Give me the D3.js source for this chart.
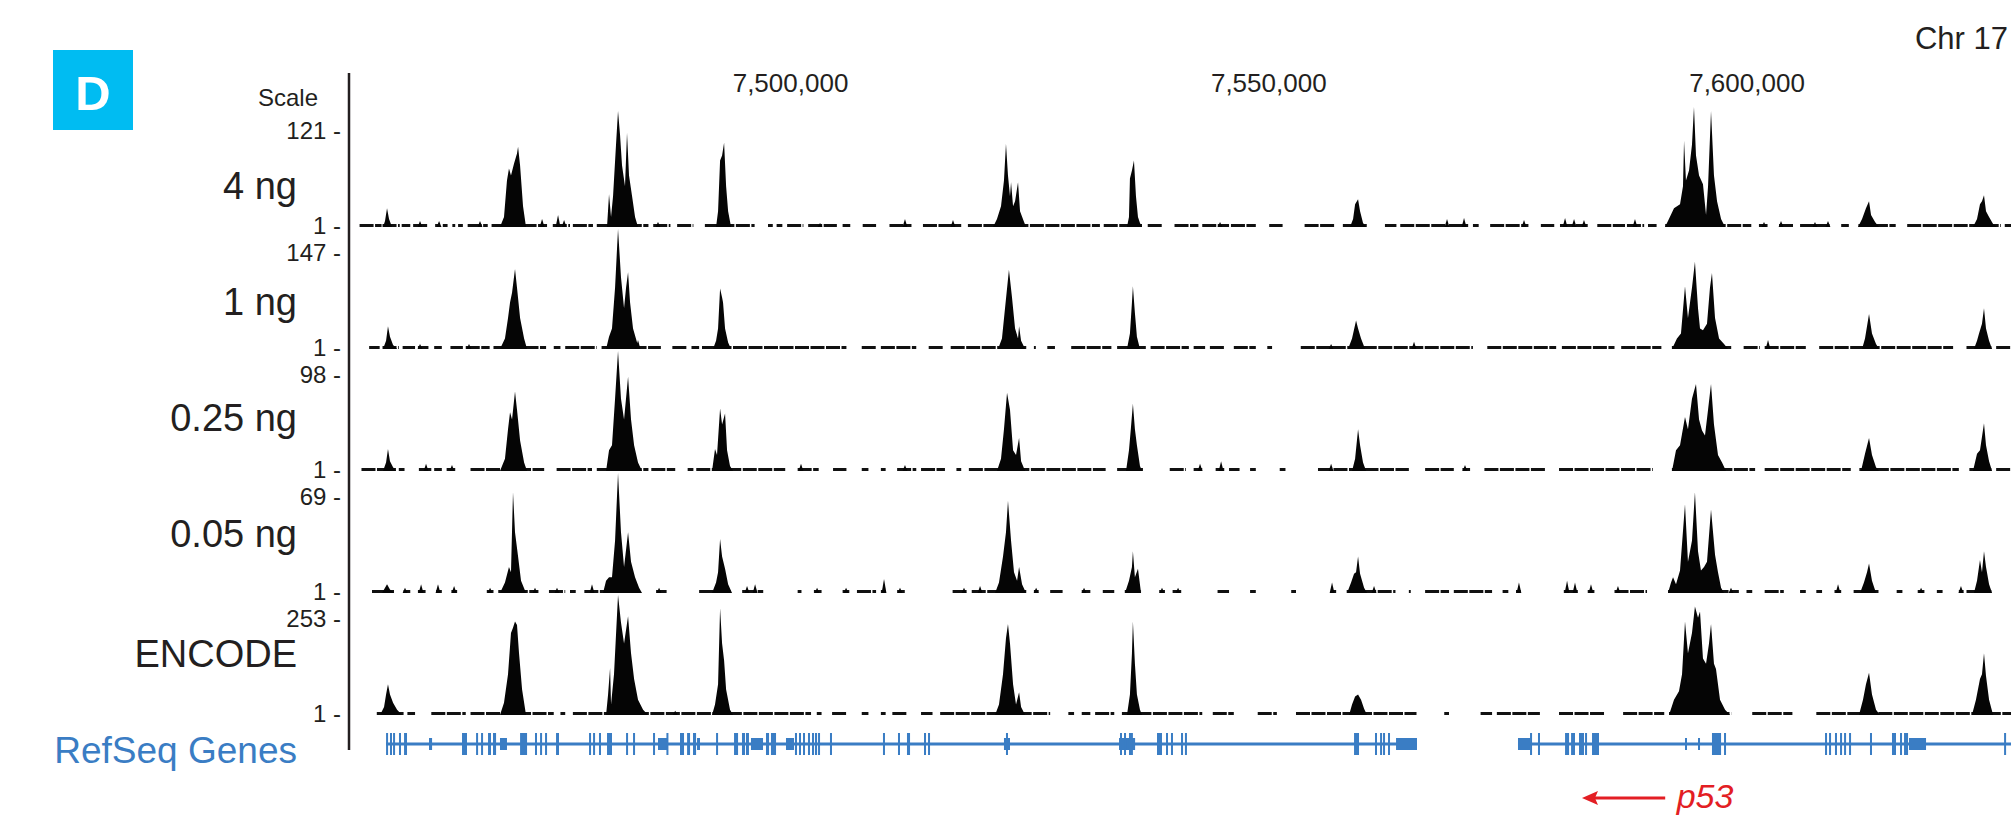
<!DOCTYPE html>
<html>
<head>
<meta charset="utf-8">
<script src="https://cdnjs.cloudflare.com/ajax/libs/d3/7.8.5/d3.min.js"></script>
<style>
  body { margin: 0; background: #fff; }
  text { font-family: "Liberation Sans", Arial, sans-serif; fill: #231f20; }
</style>
</head>
<body>
<div id="chart"></div>
<script>
// genome positions are in kb on chr17
var tickKb = [7500, 7550, 7600];
var trackNames = ["4 ng", "1 ng", "0.25 ng", "0.05 ng", "ENCODE"];
var trackMax = [121, 147, 98, 69, 253];

// stretches of low background signal (start, end)
var cov4ng = [[7455.0,7457.3],[7457.4,7459.2],[7459.4,7460.3],[7460.6,7462.2],[7462.9,7463.4],[7463.7,7464.2],[7464.7,7465.0],[7465.3,7465.8],[7466.3,7468.4],[7468.8,7474.6],[7475.2,7477.0],[7477.3,7479.4],[7479.8,7485.2],[7485.7,7487.5],[7488.2,7489.9],[7491.1,7496.3],[7497.7,7498.2],[7498.6,7499.2],[7499.7,7501.4],[7501.9,7504.9],[7505.5,7506.3],[7507.6,7509.0],[7510.4,7512.7],[7513.9,7517.9],[7518.6,7532.4],[7532.8,7536.8],[7537.4,7538.9],[7540.2,7542.7],[7543.1,7545.9],[7546.1,7548.7],[7550.1,7551.5],[7553.8,7556.9],[7557.8,7560.3],[7562.2,7563.4],[7563.8,7568.7],[7568.9,7570.9],[7571.4,7572.0],[7573.2,7577.2],[7578.5,7579.9],[7580.5,7583.4],[7584.4,7587.3],[7587.5,7589.3],[7589.7,7590.6],[7591.5,7600.5],[7601.3,7602.2],[7603.4,7605.0],[7605.6,7608.7],[7609.9,7610.7],[7611.7,7615.6],[7616.8,7626.6],[7627.0,7627.7]];
var cov1ng = [[7456.0,7457.1],[7457.4,7459.1],[7459.5,7460.8],[7461.1,7462.2],[7462.8,7463.6],[7464.5,7465.8],[7466.1,7468.6],[7469.0,7474.5],[7475.3,7476.0],[7476.5,7479.8],[7480.3,7486.5],[7487.7,7489.3],[7489.7,7490.5],[7490.8,7505.9],[7507.5,7509.0],[7509.5,7513.2],[7514.5,7516.0],[7516.8,7524.7],[7525.5,7525.7],[7526.9,7527.7],[7529.4,7533.6],[7534.2,7537.2],[7537.7,7541.7],[7542.2,7543.4],[7543.9,7545.4],[7546.4,7548.7],[7549.9,7550.4],[7553.4,7571.4],[7572.9,7580.1],[7580.7,7586.2],[7586.9,7591.1],[7592.2,7598.4],[7599.7,7601.4],[7601.9,7606.2],[7607.6,7621.6],[7623.0,7625.6],[7626.1,7627.7]];
var cov025ng = [[7455.2,7458.8],[7459.1,7459.7],[7461.2,7462.5],[7462.8,7463.6],[7464.1,7465.0],[7466.6,7474.3],[7475.6,7479.3],[7479.8,7485.2],[7485.5,7488.0],[7489.3,7489.9],[7490.2,7499.5],[7500.8,7503.0],[7504.5,7505.9],[7507.5,7508.2],[7509.5,7510.0],[7511.2,7513.2],[7513.7,7516.2],[7517.4,7517.9],[7518.7,7533.0],[7534.2,7536.9],[7539.7,7541.4],[7542.2,7543.1],[7544.5,7545.4],[7545.9,7547.0],[7548.1,7548.7],[7551.2,7551.8],[7555.2,7564.7],[7566.4,7569.4],[7570.3,7571.1],[7572.6,7579.0],[7580.4,7590.2],[7592.2,7600.9],[7601.9,7610.9],[7611.8,7622.2],[7623.3,7625.6],[7626.1,7627.7]];
var cov005ng = [[7456.3,7458.6],[7459.6,7460.3],[7461.1,7461.9],[7463.0,7463.6],[7464.6,7465.2],[7468.3,7469.0],[7469.5,7473.7],[7474.8,7476.5],[7477.0,7477.6],[7478.5,7484.3],[7486.0,7487.1],[7490.5,7493.8],[7495.0,7497.2],[7500.8,7501.2],[7502.5,7503.3],[7505.5,7506.2],[7507.0,7509.0],[7509.5,7510.0],[7511.2,7512.0],[7517.0,7518.5],[7519.0,7524.7],[7525.5,7526.0],[7527.2,7528.5],[7530.5,7531.4],[7532.7,7533.9],[7535.0,7536.7],[7538.6,7539.2],[7540.0,7540.9],[7544.7,7545.9],[7548.1,7548.7],[7552.4,7552.9],[7556.6,7557.1],[7558.2,7563.3],[7564.7,7564.9],[7566.4,7568.9],[7569.4,7573.4],[7574.5,7575.1],[7575.9,7576.4],[7580.9,7582.4],[7583.4,7584.1],[7586.2,7589.6],[7591.8,7599.2],[7600.0,7600.6],[7601.9,7603.9],[7605.6,7606.2],[7607.3,7607.9],[7609.2,7609.9],[7611.2,7613.8],[7615.7,7616.3],[7617.9,7618.6],[7619.9,7620.5],[7622.2,7622.7],[7623.0,7625.6]];
var covEncode = [[7456.8,7459.6],[7460.0,7460.8],[7462.5,7466.1],[7466.6,7475.3],[7476.0,7476.5],[7477.3,7502.2],[7502.8,7503.3],[7504.4,7505.9],[7507.5,7508.2],[7509.5,7510.0],[7510.7,7512.3],[7513.7,7514.9],[7515.7,7527.2],[7529.1,7529.7],[7530.5,7531.4],[7531.9,7533.9],[7534.7,7543.1],[7544.2,7546.4],[7548.9,7550.9],[7552.9,7565.5],[7568.4,7568.9],[7572.2,7573.4],[7573.9,7578.4],[7580.4,7585.2],[7587.1,7591.4],[7591.9,7598.4],[7600.6,7604.8],[7607.3,7627.7]];

// peaks as (kb, signal) profiles
var peaks4ng = [
  [[7457.45,0],[7457.66,6],[7457.87,19],[7458.08,8],[7458.39,0]],
  [[7469.68,0],[7470.10,10],[7470.41,47],[7470.62,59],[7470.83,52],[7471.15,64],[7471.46,74],[7471.57,81],[7471.78,62],[7472.09,21],[7472.40,0]],
  [[7480.87,0],[7481.08,33],[7481.29,10],[7481.50,31],[7481.81,83],[7482.02,117],[7482.23,93],[7482.44,62],[7482.75,41],[7482.96,95],[7483.17,52],[7483.49,31],[7483.80,10],[7484.11,0]],
  [[7492.27,0],[7492.48,16],[7492.69,67],[7492.90,72],[7493.11,85],[7493.32,41],[7493.53,16],[7493.84,0]],
  [[7521.23,0],[7521.64,8],[7522.06,21],[7522.37,47],[7522.58,84],[7522.79,52],[7523.00,31],[7523.11,45],[7523.32,21],[7523.53,26],[7523.84,45],[7524.05,16],[7524.47,5],[7524.68,0]],
  [[7535.23,0],[7535.44,10],[7535.54,49],[7535.75,57],[7535.96,67],[7536.17,31],[7536.38,10],[7536.59,4],[7536.80,0]],
  [[7558.55,0],[7558.87,8],[7559.08,23],[7559.39,28],[7559.60,16],[7559.91,4],[7560.23,0]],
  [[7591.48,0],[7591.79,6],[7592.42,19],[7593.05,23],[7593.36,41],[7593.47,87],[7593.67,47],[7593.99,57],[7594.30,83],[7594.51,121],[7594.72,72],[7595.04,52],[7595.45,43],[7595.77,12],[7595.98,41],[7596.29,117],[7596.60,52],[7596.92,26],[7597.34,8],[7597.76,0]],
  [[7611.66,0],[7612.08,8],[7612.49,19],[7612.81,26],[7613.02,12],[7613.44,5],[7613.85,0]],
  [[7623.68,0],[7624.10,8],[7624.41,23],[7624.62,26],[7624.83,32],[7625.04,16],[7625.36,10],[7625.78,3],[7626.19,0]]
];
var peaks1ng = [
  [[7457.45,0],[7457.77,10],[7457.97,28],[7458.18,15],[7458.50,5],[7458.92,0]],
  [[7469.68,0],[7470.20,13],[7470.52,38],[7470.73,57],[7470.94,69],[7471.25,98],[7471.46,75],[7471.78,38],[7472.20,13],[7472.51,0]],
  [[7480.77,0],[7481.08,15],[7481.39,25],[7481.71,75],[7482.02,147],[7482.33,88],[7482.65,50],[7482.86,75],[7483.07,94],[7483.28,57],[7483.59,25],[7484.01,8],[7484.32,0]],
  [[7491.95,0],[7492.27,10],[7492.48,25],[7492.69,74],[7492.90,63],[7493.00,57],[7493.21,25],[7493.53,8],[7493.84,0]],
  [[7521.75,0],[7522.16,13],[7522.48,50],[7522.89,97],[7523.21,63],[7523.53,25],[7523.84,13],[7523.95,28],[7524.16,10],[7524.58,0]],
  [[7535.23,0],[7535.54,19],[7535.75,57],[7535.85,77],[7536.06,44],[7536.27,15],[7536.59,0]],
  [[7558.34,0],[7558.76,13],[7559.18,35],[7559.39,25],[7559.70,13],[7560.12,0]],
  [[7592.21,0],[7592.73,13],[7593.15,19],[7593.57,77],[7593.88,38],[7594.30,75],[7594.61,107],[7594.93,50],[7595.14,25],[7595.45,23],[7595.87,31],[7596.18,75],[7596.39,93],[7596.71,38],[7597.13,13],[7597.65,6],[7598.07,0]],
  [[7612.08,0],[7612.39,13],[7612.81,43],[7613.12,19],[7613.54,6],[7613.85,0]],
  [[7623.78,0],[7624.10,10],[7624.31,19],[7624.62,31],[7624.83,50],[7625.04,25],[7625.36,10],[7625.67,0]]
];
var peaks025ng = [
  [[7457.45,0],[7457.77,7],[7457.97,18],[7458.18,8],[7458.50,3],[7458.81,0]],
  [[7469.68,0],[7470.20,10],[7470.52,34],[7470.73,48],[7470.94,42],[7471.25,65],[7471.46,50],[7471.78,25],[7472.20,7],[7472.51,0]],
  [[7480.77,0],[7481.08,17],[7481.39,21],[7481.71,59],[7482.02,98],[7482.33,59],[7482.65,42],[7483.07,77],[7483.38,42],[7483.70,21],[7484.11,7],[7484.53,0]],
  [[7491.85,0],[7492.16,18],[7492.37,13],[7492.69,51],[7492.90,38],[7493.21,47],[7493.42,17],[7493.73,4],[7494.05,0]],
  [[7521.64,0],[7522.06,10],[7522.37,34],[7522.69,64],[7523.00,50],[7523.32,17],[7523.63,13],[7523.95,27],[7524.16,8],[7524.58,0]],
  [[7535.13,0],[7535.44,17],[7535.64,35],[7535.85,55],[7536.06,34],[7536.27,21],[7536.59,4],[7536.80,0]],
  [[7558.76,0],[7559.08,10],[7559.39,34],[7559.60,21],[7559.91,7],[7560.23,0]],
  [[7592.21,0],[7592.63,17],[7593.05,21],[7593.57,44],[7593.88,34],[7594.30,59],[7594.72,71],[7595.04,42],[7595.35,33],[7595.66,29],[7595.98,50],[7596.29,71],[7596.60,38],[7597.02,13],[7597.44,7],[7597.86,0]],
  [[7611.97,0],[7612.39,14],[7612.81,27],[7613.12,13],[7613.54,3],[7613.85,0]],
  [[7623.68,0],[7624.10,14],[7624.41,17],[7624.83,39],[7625.04,21],[7625.36,8],[7625.67,0]]
];
var peaks005ng = [
  [[7457.35,0],[7457.66,3],[7457.87,5],[7458.18,2],[7458.60,0]],
  [[7469.68,0],[7470.20,6],[7470.62,15],[7470.83,12],[7471.04,58],[7471.25,35],[7471.57,21],[7471.88,7],[7472.40,0]],
  [[7480.45,0],[7480.77,7],[7481.08,9],[7481.39,9],[7481.71,30],[7482.02,69],[7482.33,35],[7482.65,15],[7483.07,35],[7483.38,18],[7483.80,9],[7484.22,3],[7484.53,0]],
  [[7491.85,0],[7492.27,6],[7492.48,12],[7492.69,31],[7492.90,21],[7493.21,14],[7493.53,5],[7493.94,0]],
  [[7521.44,0],[7521.85,6],[7522.27,21],[7522.58,35],[7522.79,53],[7523.11,30],[7523.42,12],[7523.74,7],[7523.95,15],[7524.26,5],[7524.68,0]],
  [[7535.02,0],[7535.44,7],[7535.75,15],[7535.85,24],[7536.06,9],[7536.38,14],[7536.70,0]],
  [[7558.24,0],[7558.66,6],[7558.97,11],[7559.18,12],[7559.39,21],[7559.60,11],[7560.02,3],[7560.33,0]],
  [[7591.79,0],[7592.11,6],[7592.32,9],[7592.63,5],[7593.05,13],[7593.57,51],[7593.88,18],[7594.30,30],[7594.61,58],[7594.93,24],[7595.24,13],[7595.56,15],[7595.87,18],[7596.29,48],[7596.71,22],[7597.02,12],[7597.34,3],[7597.65,0]],
  [[7611.87,0],[7612.28,6],[7612.60,12],[7612.81,17],[7613.12,7],[7613.54,0]],
  [[7623.78,0],[7624.10,7],[7624.41,19],[7624.62,12],[7624.83,24],[7625.04,15],[7625.36,5],[7625.67,0]]
];
var peaksEncode = [
  [[7457.14,0],[7457.56,17],[7457.77,43],[7457.97,65],[7458.18,43],[7458.50,26],[7458.92,11],[7459.44,0]],
  [[7469.68,0],[7470.10,26],[7470.52,86],[7470.83,173],[7471.04,184],[7471.25,197],[7471.46,190],[7471.67,130],[7471.99,54],[7472.40,0]],
  [[7480.77,0],[7480.98,43],[7481.19,99],[7481.29,22],[7481.60,86],[7482.02,253],[7482.33,195],[7482.65,151],[7483.07,208],[7483.38,130],[7483.70,76],[7484.11,32],[7484.64,11],[7485.16,0]],
  [[7491.85,0],[7492.16,22],[7492.48,65],[7492.69,225],[7492.90,151],[7493.11,115],[7493.32,54],[7493.73,11],[7494.05,0]],
  [[7521.44,0],[7521.85,22],[7522.27,86],[7522.58,162],[7522.79,192],[7523.00,151],[7523.32,65],[7523.63,22],[7523.95,48],[7524.16,17],[7524.58,0]],
  [[7535.23,0],[7535.54,43],[7535.75,130],[7535.85,197],[7536.06,108],[7536.27,43],[7536.59,11],[7536.80,0]],
  [[7558.45,0],[7558.76,22],[7559.08,39],[7559.39,43],[7559.70,32],[7560.02,13],[7560.33,0]],
  [[7591.90,0],[7592.42,32],[7592.94,50],[7593.26,86],[7593.57,197],[7593.88,130],[7594.30,173],[7594.61,229],[7594.93,205],[7595.14,218],[7595.45,119],[7595.77,108],[7596.08,151],[7596.29,192],[7596.60,108],[7596.81,97],[7597.23,32],[7597.76,11],[7598.28,0]],
  [[7611.76,0],[7612.18,32],[7612.49,65],[7612.81,89],[7613.12,43],[7613.54,11],[7613.96,0]],
  [[7623.57,0],[7623.99,32],[7624.41,76],[7624.62,86],[7624.83,130],[7625.04,82],[7625.36,32],[7625.78,0]]
];

// single small spikes (kb, signal)
var blips4ng = [[7461.32,5],[7463.31,5],[7467.59,5],[7474.08,7],[7475.75,11],[7476.38,6],[7486.20,4],[7503.14,3],[7512.02,7],[7517.04,6],[7544.96,4],[7568.69,7],[7570.47,8],[7576.74,6],[7581.03,8],[7581.97,7],[7583.01,6],[7588.34,7],[7601.83,4],[7603.61,5],[7607.16,4],[7608.52,5]];
var blips1ng = [[7461.32,5],[7466.44,5],[7484.11,10],[7556.57,5],[7565.24,8],[7602.25,10]];
var blips025ng = [[7461.95,5],[7464.66,4],[7501.15,5],[7512.02,4],[7542.87,5],[7545.07,7],[7556.57,5],[7570.57,4]];
var blips005ng = [[7459.75,2],[7461.43,4],[7463.20,4],[7464.88,3],[7468.64,2],[7473.34,2],[7475.64,2],[7479.30,4],[7486.31,2],[7495.51,3],[7496.35,4],[7502.83,2],[7505.86,2],[7509.83,7],[7511.50,2],[7518.19,2],[7519.87,3],[7525.73,2],[7530.74,2],[7538.89,2],[7540.57,2],[7556.67,5],[7561.06,3],[7576.21,5],[7581.24,6],[7582.07,5],[7583.74,4],[7586.56,3],[7598.38,2],[7609.57,4],[7618.25,2],[7622.42,3]];
var blipsEncode = [[7488.0,8]];

// RefSeq genes
var geneSpans = [[7457.77,7565.55],[7576.11,7627.66]];
var geneExons = [[7457.77,7457.97],[7458.18,7458.39],[7458.50,7458.71],[7459.12,7459.33],[7459.65,7459.96],[7465.71,7466.23],[7467.18,7467.38],[7467.70,7467.91],[7468.43,7468.74],[7468.95,7469.27],[7471.78,7472.51],[7473.34,7473.55],[7473.87,7474.08],[7474.39,7474.60],[7475.54,7475.85],[7478.99,7479.20],[7479.41,7479.62],[7480.03,7480.24],[7480.87,7481.39],[7482.86,7483.07],[7483.59,7483.80],[7485.68,7485.89],[7487.08,7487.29],[7488.50,7488.92],[7489.24,7489.55],[7489.86,7490.18],[7492.27,7492.48],[7494.15,7494.57],[7494.98,7495.30],[7495.40,7495.71],[7497.49,7497.81],[7498.01,7498.54],[7500.52,7500.73],[7500.94,7501.15],[7501.36,7501.57],[7501.88,7502.09],[7502.30,7502.51],[7502.61,7502.83],[7502.93,7503.14],[7504.18,7504.39],[7509.72,7509.93],[7511.29,7511.50],[7512.23,7512.55],[7514.01,7514.22],[7514.43,7514.64],[7522.58,7522.79],[7534.50,7534.71],[7534.92,7535.13],[7535.44,7535.85],[7538.37,7538.89],[7539.31,7539.52],[7539.83,7540.04],[7540.88,7541.09],[7541.29,7541.50],[7558.97,7559.49],[7561.16,7561.37],[7561.69,7561.90],[7562.00,7562.21],[7562.52,7562.73],[7577.37,7577.58],[7578.20,7578.41],[7581.03,7581.45],[7581.66,7582.07],[7582.49,7583.01],[7583.12,7583.33],[7583.85,7584.58],[7596.39,7597.34],[7597.65,7597.86],[7608.21,7608.42],[7608.63,7608.84],[7609.25,7609.46],[7609.78,7609.99],[7610.20,7610.41],[7610.72,7610.93],[7612.91,7613.12],[7615.21,7615.63],[7616.05,7616.26],[7616.47,7616.89],[7626.93,7627.13]];
var geneUtrs = [[7462.26,7462.58],[7469.68,7470.41],[7486.20,7487.15],[7490.28,7490.59],[7495.92,7497.18],[7499.58,7500.42],[7522.37,7523.00],[7534.40,7536.08],[7563.36,7565.55],[7576.11,7577.37],[7593.57,7593.78],[7594.93,7595.14],[7616.99,7618.77]];

// p53 arrow, tail to head, and label position
var p53Arrow = [7591.5, 7582.8];
var p53LabelKb = 7592.7;

var svgWidth = 2011;
var svgHeight = 815;
var geneBlue = "#3a7dc4";
var red = "#e31e24";

var svg = d3.select("#chart")
  .append("svg")
  .attr("width", svgWidth)
  .attr("height", svgHeight);

var xScale = d3.scaleLinear()
  .domain([7500, 7600])
  .range([790, 1746.5]);

var covs = [cov4ng, cov1ng, cov025ng, cov005ng, covEncode];
var peaks = [peaks4ng, peaks1ng, peaks025ng, peaks005ng, peaksEncode];
var blips = [blips4ng, blips1ng, blips025ng, blips005ng, blipsEncode];
var labelY = [185, 301, 417, 533, 653];

var tracks = trackNames.map(function(name, i) {
  return { name: name, max: trackMax[i], cov: covs[i], peaks: peaks[i], blips: blips[i] };
});

// panel letter
svg.append("rect")
  .attr("x", 53).attr("y", 50)
  .attr("width", 80).attr("height", 80)
  .attr("fill", "#00bcf2");
svg.append("text")
  .attr("x", 93).attr("y", 92)
  .attr("dy", "0.36em")
  .attr("text-anchor", "middle")
  .style("font-size", "49px")
  .style("font-weight", "bold")
  .style("fill", "#fff")
  .text("D");

svg.append("text")
  .attr("x", 2008).attr("y", 38)
  .attr("dy", "0.36em")
  .attr("text-anchor", "end")
  .style("font-size", "31px")
  .text("Chr 17");

svg.append("text")
  .attr("x", 318).attr("y", 97)
  .attr("dy", "0.36em")
  .attr("text-anchor", "end")
  .style("font-size", "24px")
  .text("Scale");

var topAxis = d3.axisTop(xScale)
  .tickValues(tickKb)
  .tickSize(0)
  .tickPadding(0)
  .tickFormat(function(d) { return d3.format(",")(d * 1000); });

var axisG = svg.append("g")
  .attr("transform", "translate(0, 92)")
  .call(topAxis);
axisG.select(".domain").remove();
axisG.selectAll("text").style("font-size", "26px");

svg.append("line")
  .attr("x1", 349).attr("x2", 349)
  .attr("y1", 73).attr("y2", 750)
  .attr("stroke", "#231f20")
  .attr("stroke-width", 2.5);

tracks.forEach(function(t, i) {
  var base = 227 + i * 122;
  var yScale = d3.scaleLinear()
    .domain([0, t.max])
    .range([base, base - 120]);

  var g = svg.append("g");

  g.selectAll(".cov")
    .data(t.cov)
    .enter()
    .append("line")
    .attr("class", "cov")
    .attr("x1", d => xScale(d[0]))
    .attr("x2", d => xScale(d[1]))
    .attr("y1", yScale(0) - 1.5)
    .attr("y2", yScale(0) - 1.5)
    .attr("stroke", "#111")
    .attr("stroke-width", 3)
    .attr("stroke-dasharray", "14,1.5");

  var area = d3.area()
    .x(d => xScale(d[0]))
    .y0(yScale(0))
    .y1(d => yScale(d[1]));

  g.selectAll(".peak")
    .data(t.peaks)
    .enter()
    .append("path")
    .attr("class", "peak")
    .attr("d", area)
    .attr("fill", "#050505");

  g.selectAll(".blip")
    .data(t.blips)
    .enter()
    .append("path")
    .attr("class", "blip")
    .attr("d", d => area([[d[0] - 0.25, 0], [d[0], d[1] + 1], [d[0] + 0.25, 0]]))
    .attr("fill", "#050505");

  g.append("text")
    .attr("x", 297).attr("y", labelY[i])
    .attr("dy", "0.36em")
    .attr("text-anchor", "end")
    .style("font-size", "38px")
    .text(t.name);

  g.append("text")
    .attr("x", 341).attr("y", yScale(t.max) + 23)
    .attr("dy", "0.36em")
    .attr("text-anchor", "end")
    .style("font-size", "24px")
    .text(t.max + " -");

  g.append("text")
    .attr("x", 341).attr("y", yScale(0) - 2)
    .attr("dy", "0.36em")
    .attr("text-anchor", "end")
    .style("font-size", "24px")
    .text("1 -");
});

// gene track
var geneY = 744;
var genes = svg.append("g");

genes.selectAll(".span")
  .data(geneSpans)
  .enter()
  .append("rect")
  .attr("x", d => xScale(d[0]))
  .attr("width", d => xScale(d[1]) - xScale(d[0]))
  .attr("y", geneY - 1.5)
  .attr("height", 3)
  .attr("fill", geneBlue);

genes.selectAll(".utr")
  .data(geneUtrs)
  .enter()
  .append("rect")
  .attr("x", d => xScale(d[0]))
  .attr("width", d => Math.max(2, xScale(d[1]) - xScale(d[0])))
  .attr("y", geneY - 6)
  .attr("height", 12)
  .attr("fill", geneBlue);

genes.selectAll(".exon")
  .data(geneExons)
  .enter()
  .append("rect")
  .attr("x", d => xScale(d[0]))
  .attr("width", d => Math.max(2, xScale(d[1]) - xScale(d[0])))
  .attr("y", geneY - 11)
  .attr("height", 22)
  .attr("fill", geneBlue);

svg.append("text")
  .attr("x", 297).attr("y", 750)
  .attr("dy", "0.36em")
  .attr("text-anchor", "end")
  .style("font-size", "37px")
  .style("fill", geneBlue)
  .text("RefSeq Genes");

// p53 direction
svg.append("line")
  .attr("x1", xScale(p53Arrow[0]))
  .attr("x2", xScale(p53Arrow[1]) + 10)
  .attr("y1", 798).attr("y2", 798)
  .attr("stroke", red)
  .attr("stroke-width", 3);
svg.append("path")
  .attr("d", "M" + xScale(p53Arrow[1]) + ",798 l16,-7 l-3,7 l3,7 z")
  .attr("fill", red);
svg.append("text")
  .attr("x", xScale(p53LabelKb)).attr("y", 808)
  .style("font-size", "34px")
  .style("font-style", "italic")
  .style("fill", red)
  .text("p53");
</script>
</body>
</html>
